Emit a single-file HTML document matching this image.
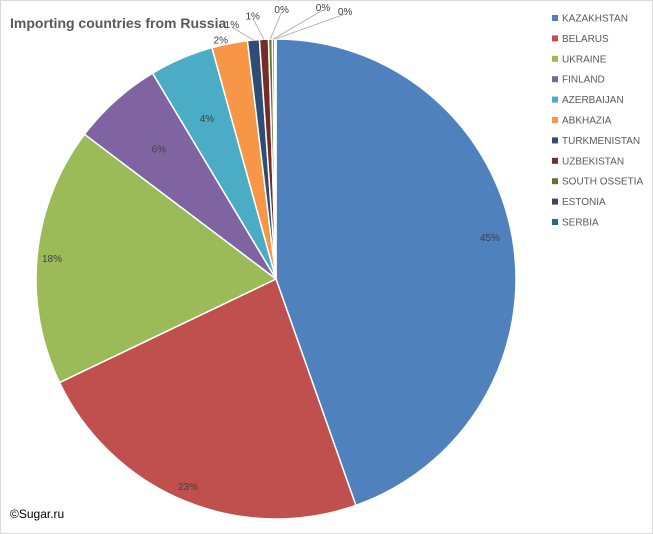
<!DOCTYPE html>
<html><head><meta charset="utf-8"><style>
body{margin:0;background:#fff;}
svg{display:block;font-family:"Liberation Sans",sans-serif;}
</style></head><body>
<svg id="chart" width="653" height="534">
<rect x="0.5" y="0.5" width="652" height="533" fill="#fff" stroke="#d9d9d9"/>
<text x="10" y="28" font-size="14" font-weight="bold" fill="#595959">Importing countries from Russia</text>
<text x="10" y="518" font-size="12" fill="#000">©Sugar.ru</text>
<g id="slices"></g><g id="labels"></g><g id="legend"></g>
</svg>
<script>
const categories=["KAZAKHSTAN","BELARUS","UKRAINE","FINLAND","AZERBAIJAN","ABKHAZIA","TURKMENISTAN","UZBEKISTAN","SOUTH OSSETIA","ESTONIA","SERBIA"];
const values=[44.6,23.3,17.4,6.1,4.3,2.4,0.8,0.6,0.25,0.15,0.1];
const valueLabels=["45%","23%","18%","6%","4%","2%","1%","1%","0%","0%","0%"];
const colors=["#4F81BD","#C0504D","#9BBB59","#8064A2","#4BACC6","#F79646","#2C4D75","#772C2A","#5F7530","#4D3B62","#276A7C"];
const NS="http://www.w3.org/2000/svg";
const cx=276,cy=279,r=240;
const total=values.reduce((a,b)=>a+b,0);
function pt(a,rad){return [cx+rad*Math.sin(a),cy-rad*Math.cos(a)];}
const sg=document.getElementById('slices'),lg=document.getElementById('labels'),leg=document.getElementById('legend');
let acc=0;
values.forEach((v,i)=>{
 const a0=acc/total*2*Math.PI;acc+=v;const a1=acc/total*2*Math.PI;
 const p0=pt(a0,r),p1=pt(a1,r);
 const p=document.createElementNS(NS,'path');
 p.setAttribute('d',`M${cx},${cy}L${p0[0]},${p0[1]}A${r},${r} 0 ${a1-a0>Math.PI?1:0} 1 ${p1[0]},${p1[1]}Z`);
 p.setAttribute('fill',colors[i]);p.setAttribute('stroke','#fff');p.setAttribute('stroke-width','1.5');
 
 
 sg.appendChild(p);
 const am=(a0+a1)/2;
 let lx,ly;
 if(v>=3){const q=pt(am,r*0.93);lx=q[0];ly=q[1];if(i>=3){const q2=pt(am,r*0.73);lx=q2[0];ly=q2[1];}}
 else{
  const outR=[0,0,0,0,0,r+4,r+16,r+24,r+30,r+32,r+28][i];
  const shift=[0,0,0,0,0,-8,-20,-10,12,50,70][i];
  const q=pt(am,outR);lx=q[0]+shift;ly=q[1];
  if(i>=6){const e=pt(am,r);const l=document.createElementNS(NS,'polyline');
   l.setAttribute('points',`${e[0]},${e[1]} ${lx},${ly+3}`);l.setAttribute('fill','none');l.setAttribute('stroke','#a6a6a6');l.setAttribute('stroke-width','0.8');
   
   
   lg.appendChild(l);}
 }
 if(v>=3&&i==0){lx=490;ly=237;} if(i==1){lx=188;ly=486;} if(i==2){lx=52;ly=258;}
 const t=document.createElementNS(NS,'text');
 t.setAttribute('x',lx);t.setAttribute('y',ly+4);t.setAttribute('font-size','10');t.setAttribute('fill','#404040');t.setAttribute('text-anchor','middle');
 t.textContent=valueLabels[i];
 
 
 lg.appendChild(t);
 const y=18+i*20.4;
 const g=document.createElementNS(NS,'g');
 
 
 const s=document.createElementNS(NS,'rect');s.setAttribute('x',552);s.setAttribute('y',y-3);s.setAttribute('width',6);s.setAttribute('height',6);s.setAttribute('fill',colors[i]);
 const tt=document.createElementNS(NS,'text');tt.setAttribute('x',562);tt.setAttribute('y',y+3.5);tt.setAttribute('font-size','10');tt.setAttribute('fill','#595959');tt.textContent=categories[i];
 g.appendChild(s);g.appendChild(tt);leg.appendChild(g);
});
</script>
</body></html>
